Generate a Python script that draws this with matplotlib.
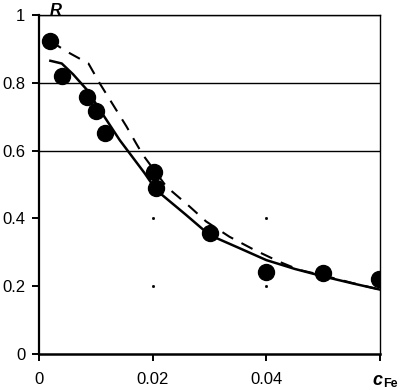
import matplotlib.pyplot as plt

# measured points
c_points = [0.002, 0.0041, 0.0084, 0.0101, 0.0116, 0.0202, 0.0206, 0.030, 0.040, 0.0499, 0.0599]
r_points = [0.923, 0.82, 0.759, 0.717, 0.651, 0.538, 0.489, 0.356, 0.241, 0.238, 0.22]

# model curve (solid)
c_solid = [0.002, 0.004, 0.006, 0.0084, 0.0115, 0.0142, 0.0186, 0.0206, 0.0259, 0.030,
           0.0353, 0.040, 0.045, 0.050, 0.055, 0.060]
r_solid = [0.865, 0.857, 0.825, 0.78, 0.70, 0.631, 0.533, 0.484, 0.41, 0.351,
           0.312, 0.277, 0.251, 0.229, 0.209, 0.19]

# model curve (dashed)
c_dash = [0.002, 0.0049, 0.0087, 0.0107, 0.0154, 0.0171, 0.0183, 0.0224, 0.0265, 0.0294,
          0.0335, 0.0379, 0.0423, 0.0458, 0.050, 0.055, 0.060]
r_dash = [0.923, 0.892, 0.857, 0.798, 0.671, 0.621, 0.587, 0.494, 0.435, 0.391,
          0.346, 0.307, 0.272, 0.248, 0.232, 0.21, 0.19]

x_ticks = [0, 0.02, 0.04, 0.06]
x_labels = ['0', '0.02', '0.04', '']
y_ticks = [0, 0.2, 0.4, 0.6, 0.8, 1.0]
y_labels = ['0', '0.2', '0.4', '0.6', '0.8', '1']
grid_levels = [0.6, 0.8, 1.0]
# faint leftover grid dots at the lower levels
dot_x = [0.02, 0.02, 0.04, 0.04]
dot_y = [0.2, 0.4, 0.2, 0.4]

plt.rcParams['font.family'] = ['Liberation Sans', 'DejaVu Sans']

fig = plt.figure(figsize=(4.01, 3.90), dpi=100)
ax = fig.add_axes([0.0973, 0.0923, 0.8503, 0.8692])

for g in grid_levels:
    ax.axhline(g, color='black', lw=1.0, zorder=1)
ax.plot(dot_x, dot_y, 's', color='black', markersize=1.0, zorder=1)

ax.plot(c_solid, r_solid, color='black', lw=1.8, zorder=2)
ax.plot(c_dash, r_dash, color='black', lw=1.5, dashes=(6, 4.5), zorder=2)
ax.plot(c_points, r_points, 'o', color='black', markersize=11.5, zorder=3)

ax.set_xlim(0, 0.06)
ax.set_ylim(0, 1.0)
ax.set_xticks(x_ticks)
ax.set_xticklabels(x_labels)
ax.set_yticks(y_ticks)
ax.set_yticklabels(y_labels)
ax.tick_params(axis='both', direction='out', length=5, width=1.4, labelsize=12)
ax.tick_params(axis='x', pad=8)
ax.tick_params(axis='y', pad=5)

ax.spines['left'].set_linewidth(1.6)
ax.spines['bottom'].set_linewidth(1.8)
ax.spines['right'].set_linewidth(1.0)
ax.spines['top'].set_linewidth(1.0)

# axis labels placed like in the original
fig.text(56 / 401, 1 - 3 / 390, 'R', fontsize=12, fontweight='bold', fontstyle='italic',
         ha='center', va='top')
fig.text(372 / 401, 1 - 372 / 390, 'c', fontsize=13, fontweight='bold', fontstyle='italic',
         ha='left', va='top')
fig.text(383 / 401, 1 - 378 / 390, 'Fe', fontsize=9, fontweight='bold',
         ha='left', va='top')

fig.savefig('out.png', dpi=100)
